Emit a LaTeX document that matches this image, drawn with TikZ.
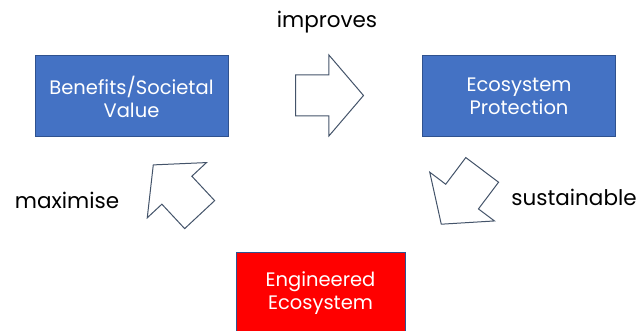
\documentclass[tikz,border=0pt]{standalone}
\usepackage{fontspec}
\setmainfont{Poppins}
\usetikzlibrary{shapes.arrows}
\definecolor{boxblue}{HTML}{4472C4}
\definecolor{boxedge}{HTML}{2F528F}
\definecolor{arrowedge}{HTML}{44546A}
\begin{document}
\begin{tikzpicture}[x=1pt,y=1pt,
    block/.style={draw=boxedge, line width=1pt, fill=boxblue, text=white,
      minimum width=193pt, minimum height=81pt, align=center,
      font=\fontsize{19.5}{23}\selectfont},
    bigarrow/.style={single arrow, draw=arrowedge, line width=1pt, fill=white,
      inner xsep=0pt, inner ysep=20pt, minimum height=68pt, minimum width=80pt,
      single arrow head extend=20pt, single arrow tip angle=99, anchor=tail},
    word/.style={font=\fontsize{21.5}{25}\selectfont}]
    \useasboundingbox (0,0) rectangle (641,-331);
    % the three boxes
    \node[block] (benefit) at (131.5,-96.5) {Benefits/Societal\\Value};
    \node[block] (protect) at (519,-96) {Ecosystem\\Protection};
    \node[block, fill=red, minimum width=169pt] (engineer) at (320.5,-293.5) {Engineered\\Ecosystem};
    % block arrows, placed by their tails
    \node[bigarrow] (improve) at (295,-95.5) {};
    \node[bigarrow, rotate=-127] (sustain) at (482.5,-169.5) {};
    \node[bigarrow, rotate=133] (maxim) at (200,-215) {};
    % labels
    \node[word] (improvetxt) at (327,-22) {improves};
    \node[word] (sustaintxt) at (574,-197) {sustainable};
    \node[word] (maximtxt) at (67,-200) {maximise};
\end{tikzpicture}
\end{document}
